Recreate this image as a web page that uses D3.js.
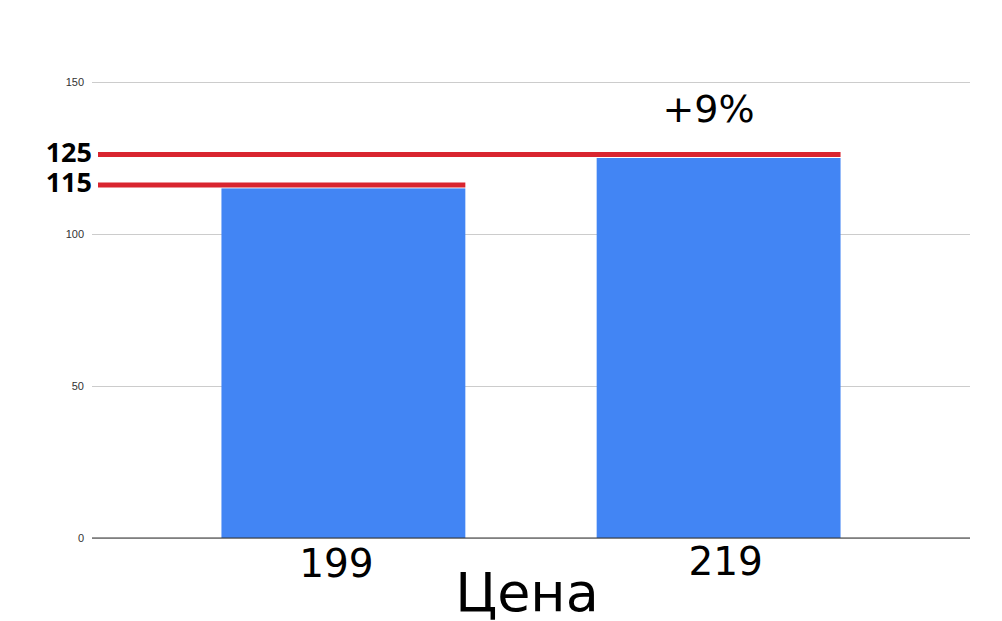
<!DOCTYPE html>
<html>
<head>
<meta charset="utf-8">
<script src="https://cdn.jsdelivr.net/npm/d3@7"></script>
<style>
  body { margin: 0; background: #fff; }
</style>
</head>
<body>
<svg id="chart" width="1002" height="621"></svg>
<script>
// data
const categories = ["199", "219"]
const values = [115, 125]
const yTicks = [0, 50, 100, 150]
const levelLabels = ["115", "125"]
const changeLabel = "+9%"
const axisTitle = "Цена"

const width = 1002, height = 621
const margin = {top: 82, right: 32, bottom: 83, left: 92}

const svg = d3.select("#chart")

const x = d3.scaleBand()
  .domain(categories)
  .range([margin.left, width - margin.right])
  .paddingInner(0.35)
  .paddingOuter(0.345)

const y = d3.scaleLinear()
  .domain([0, 150])
  .range([height - margin.bottom, margin.top])

// gridlines + tick labels
const yAxis = d3.axisLeft(y)
  .tickValues(yTicks)
  .tickSize(-(width - margin.left - margin.right))
  .tickPadding(8)

const gy = svg.append("g")
  .attr("transform", `translate(${margin.left},0)`)
  .call(yAxis)
gy.select(".domain").remove()
gy.selectAll(".tick line").attr("stroke", "#cccccc")
gy.selectAll(".tick text")
  .attr("font-family", "Liberation Sans, Arial, sans-serif")
  .attr("font-size", 11)
  .attr("fill", "#333")

// bars
svg.append("g")
  .selectAll("rect")
  .data(values)
  .enter()
  .append("rect")
  .attr("x", (d, i) => x(categories[i]))
  .attr("y", d => y(d))
  .attr("width", x.bandwidth())
  .attr("height", d => y(0) - y(d))
  .attr("fill", "#4285f4")

// baseline
svg.append("line")
  .attr("x1", margin.left)
  .attr("x2", width - margin.right)
  .attr("y1", y(0))
  .attr("y2", y(0))
  .attr("stroke", "#333")
  .attr("stroke-width", 1)

// red level lines running from the axis to each bar's right edge
svg.append("g")
  .selectAll("line")
  .data(values)
  .enter()
  .append("line")
  .attr("x1", margin.left + 6)
  .attr("x2", (d, i) => x(categories[i]) + x.bandwidth())
  .attr("y1", d => y(d) - 3.5)
  .attr("y2", d => y(d) - 3.5)
  .attr("stroke", "#d9252f")
  .attr("stroke-width", 5)

svg.append("g")
  .selectAll("text")
  .data(values)
  .enter()
  .append("text")
  .attr("x", margin.left)
  .attr("y", d => y(d) + 4)
  .attr("text-anchor", "end")
  .attr("font-family", "Open Sans, sans-serif")
  .attr("font-weight", "bold")
  .attr("font-size", 27)
  .attr("fill", "#000")
  .text((d, i) => levelLabels[i])

// change label above the second bar
svg.append("text")
  .attr("x", x(categories[1]) + x.bandwidth() / 2 - 10)
  .attr("y", y(values[1]) - 36)
  .attr("text-anchor", "middle")
  .attr("font-family", "DejaVu Sans, sans-serif")
  .attr("font-size", 38)
  .text(changeLabel)

// category labels
svg.append("g")
  .selectAll("text")
  .data(categories)
  .enter()
  .append("text")
  .attr("x", (d, i) => x(d) + x.bandwidth() / 2 + (i === 0 ? -7 : 7))
  .attr("y", (d, i) => y(0) + (i === 0 ? 39 : 37))
  .attr("text-anchor", "middle")
  .attr("font-family", "DejaVu Sans, sans-serif")
  .attr("font-size", 39)
  .text(d => d)

// axis title
svg.append("text")
  .attr("x", 527)
  .attr("y", 611)
  .attr("text-anchor", "middle")
  .attr("font-family", "DejaVu Sans, sans-serif")
  .attr("font-size", 54)
  .text(axisTitle)
</script>
</body>
</html>
